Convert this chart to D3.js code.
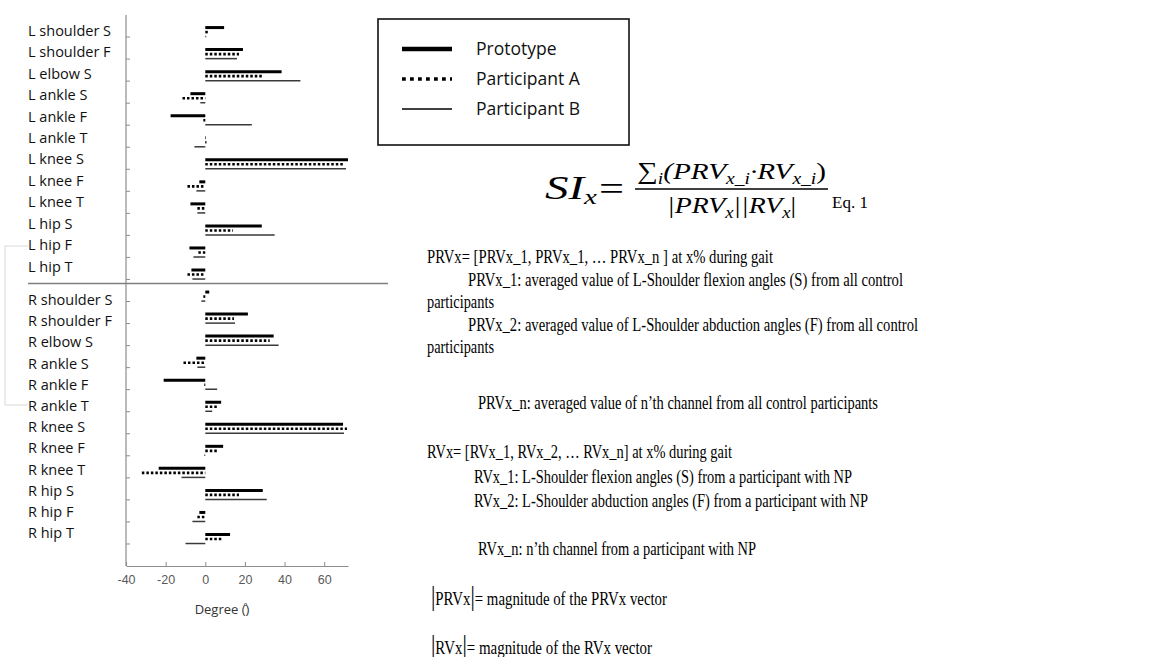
<!DOCTYPE html>
<html>
<head>
<meta charset="utf-8">
<script src="https://cdn.jsdelivr.net/npm/d3@7"></script>
<style>
  body { margin: 0; background: #fff; }
  svg { display: block; }
</style>
</head>
<body>
<div id="chart"></div>
<script>
// joint channels, top to bottom
const categories = [
  "L shoulder S", "L shoulder F", "L elbow S", "L ankle S", "L ankle F", "L ankle T",
  "L knee S", "L knee F", "L knee T", "L hip S", "L hip F", "L hip T",
  "R shoulder S", "R shoulder F", "R elbow S", "R ankle S", "R ankle F", "R ankle T",
  "R knee S", "R knee F", "R knee T", "R hip S", "R hip F", "R hip T"
];
const seriesNames = ["Prototype", "Participant A", "Participant B"];

// degrees
const prototype    = [9.5, 19, 38.5, -7.5, -17.5, 0.3, 72, -3, -7.5, 28.5, -8, -7,
                      2, 21.5, 34.5, -4.5, -21, 8, 69.5, 9, -23.5, 29, -3, 12.5];
const participantA = [1.5, 17, 29.5, -11.5, -1, 0.6, 69.5, -9, -4, 14, -3.5, -9,
                      -1, 14.5, 32.5, -11, -0.5, 6.5, 71.5, 6.5, -32, 17, -4, 9];
const participantB = [0.5, 16, 48, -2.5, 23.5, -5.5, 71, -4.5, -4, 35, -6, -6.5,
                      -2, 15, 37, -4, 6, 3.5, 70, -0.5, -12, 31, -6.5, -10];

const xTicks = [-40, -20, 0, 20, 40, 60];
const axisTitle = "Degree (\u030A)";

const noteLines = [
  "PRVx= [PRVx_1, PRVx_1, \u2026 PRVx_n ] at x% during gait",
  "PRVx_1: averaged value of L-Shoulder flexion angles (S) from all control",
  "participants",
  "PRVx_2: averaged value of L-Shoulder abduction angles (F) from all control",
  "participants",
  "PRVx_n: averaged value of n\u2019th channel from all control participants",
  "RVx= [RVx_1, RVx_2, \u2026 RVx_n] at x% during gait",
  "RVx_1: L-Shoulder flexion angles (S) from a participant with NP",
  "RVx_2: L-Shoulder abduction angles (F) from a participant with NP",
  "RVx_n: n\u2019th channel from a participant with NP"
];
const magnitudeLines = [
  ["PRVx", "= magnitude of the PRVx vector"],
  ["RVx", "= magnitude of the RVx vector"]
];

const width = 1168, height = 657;
const svg = d3.select("#chart").append("svg")
  .attr("width", width)
  .attr("height", height);

const sansFont = "'Open Sans', sans-serif";
const serifFont = "'Liberation Serif', 'Times New Roman', serif";

// faint bracket left over from the page behind the figure
svg.append("path")
  .attr("d", "M28,246 H5 V405 H28")
  .attr("fill", "none")
  .attr("stroke", "#e6e6e6")
  .attr("stroke-width", 1.5);

// scales
const x = d3.scaleLinear().domain([-40, 72]).range([126, 348]);
const y = d3.scaleBand().domain([...categories, "blank"]).range([15, 566]);
const bw = y.bandwidth();
const inner = d3.scalePoint().domain(seriesNames).range([bw * 0.57, bw * 0.98]);
// the label column is slightly out of step with the bars
const labelY = d3.scaleLinear().domain([0, 11, 12, 23]).range([35.7, 271.7, 305, 538.3]);

const axisColor = "#8c8c8c";

// x axis
const xAxis = svg.append("g")
  .attr("transform", `translate(0,${y.range()[1]})`)
  .call(d3.axisBottom(x).tickValues(xTicks).tickFormat(d => String(d))
    .tickSizeInner(-4).tickSizeOuter(0).tickPadding(9));
xAxis.select(".domain").attr("stroke", axisColor).attr("stroke-width", 1.2);
xAxis.selectAll(".tick line").attr("stroke", axisColor);
xAxis.selectAll(".tick text")
  .attr("fill", "#595959")
  .style("font-family", "'Liberation Sans', Arial, sans-serif")
  .style("font-size", "12.5px");

svg.append("text")
  .attr("x", 222)
  .attr("y", 614)
  .attr("text-anchor", "middle")
  .style("font-family", sansFont)
  .style("font-size", "13px")
  .attr("fill", "#333")
  .text(axisTitle);

// y axis line + ticks between categories
svg.append("line")
  .attr("x1", x.range()[0]).attr("x2", x.range()[0])
  .attr("y1", y.range()[0]).attr("y2", y.range()[1])
  .attr("stroke", axisColor).attr("stroke-width", 1.2);
svg.selectAll(".ytick")
  .data(categories)
  .enter().append("line")
  .attr("class", "ytick")
  .attr("x1", x.range()[0]).attr("x2", x.range()[0] + 4)
  .attr("y1", d => y(d) + bw).attr("y2", d => y(d) + bw)
  .attr("stroke", axisColor);

// category labels
svg.selectAll(".cat")
  .data(categories)
  .enter().append("text")
  .attr("class", "cat")
  .attr("x", 28)
  .attr("y", (d, i) => labelY(i))
  .style("font-family", sansFont)
  .style("font-size", "14.5px")
  .attr("fill", "#111")
  .text(d => d);

// separator between left and right side
svg.append("line")
  .attr("x1", 28).attr("x2", 388)
  .attr("y1", y("R shoulder S") + 4).attr("y2", y("R shoulder S") + 4)
  .attr("stroke", "#7f7f7f").attr("stroke-width", 1.6);

// bars
const styles = {
  "Prototype":     { stroke: "#000", width: 3, dash: null },
  "Participant A": { stroke: "#000", width: 2.6, dash: "2.5,2" },
  "Participant B": { stroke: "#3a3a3a", width: 1.5, dash: null }
};
const seriesValues = [prototype, participantA, participantB];

const rows = [];
seriesNames.forEach((s, si) => {
  categories.forEach((c, ci) => rows.push({ series: s, cat: c, value: seriesValues[si][ci] }));
});

svg.append("g").selectAll("line")
  .data(rows)
  .enter().append("line")
  .attr("x1", d => x(Math.min(0, d.value)))
  .attr("x2", d => x(Math.max(0, d.value)))
  .attr("y1", d => y(d.cat) + inner(d.series))
  .attr("y2", d => y(d.cat) + inner(d.series))
  .attr("stroke", d => styles[d.series].stroke)
  .attr("stroke-width", d => styles[d.series].width)
  .attr("stroke-dasharray", d => styles[d.series].dash);

// legend
const legend = svg.append("g");
legend.append("rect")
  .attr("x", 378).attr("y", 19)
  .attr("width", 251).attr("height", 126)
  .attr("fill", "#fff").attr("stroke", "#111").attr("stroke-width", 1.6);
const legendY = d3.scalePoint().domain(seriesNames).range([49, 109]);
const legendStyles = {
  "Prototype":     { width: 4.5, dash: null },
  "Participant A": { width: 3.5, dash: "3.8,4.2" },
  "Participant B": { width: 1.5, dash: null }
};
seriesNames.forEach(s => {
  legend.append("line")
    .attr("x1", 402).attr("x2", 452)
    .attr("y1", legendY(s)).attr("y2", legendY(s))
    .attr("stroke", "#000")
    .attr("stroke-width", legendStyles[s].width)
    .attr("stroke-dasharray", legendStyles[s].dash);
  legend.append("text")
    .attr("x", 476)
    .attr("y", legendY(s) + 5.5)
    .style("font-family", sansFont)
    .style("font-size", "17.5px")
    .attr("fill", "#111")
    .text(s);
});

// equation 1
const eq = svg.append("g").style("font-family", serifFont).attr("fill", "#000");

function mathText(parts, px, py, big, small, len) {
  const t = eq.append("text").attr("x", px).attr("y", py)
    .attr("textLength", len).attr("lengthAdjust", "spacingAndGlyphs");
  let level = 0;
  parts.forEach(([str, sub, italic]) => {
    const shift = (sub - level) * 5;
    level = sub;
    t.append("tspan")
      .attr("dy", shift)
      .style("font-size", (sub ? small : big) + "px")
      .style("font-style", italic ? "italic" : "normal")
      .text(str);
  });
  return t;
}

mathText([["SI", 0, 1], ["x", 1, 1]], 545, 199, 34, 21, 52);
eq.append("text").attr("x", 599).attr("y", 200)
  .attr("textLength", 25).attr("lengthAdjust", "spacingAndGlyphs")
  .style("font-size", "34px").text("=");
eq.append("line")
  .attr("x1", 635).attr("x2", 828).attr("y1", 189).attr("y2", 189)
  .attr("stroke", "#000").attr("stroke-width", 1.3);
mathText([["\u2211", 0, 0], ["i", 1, 1], ["(PRV", 0, 1], ["x_i", 1, 1], ["\u00B7RV", 0, 1],
          ["x_i", 1, 1], [")", 0, 0]], 637, 179, 24, 16, 189);
mathText([["|PRV", 0, 1], ["x", 1, 1], ["||RV", 0, 1], ["x", 1, 1], ["|", 0, 0]],
         667, 213, 24, 16, 129);
eq.append("text").attr("x", 832).attr("y", 208)
  .style("font-size", "17px").text("Eq. 1");

// notes
const noteX = [427, 468, 427, 468, 427, 478, 427, 474, 474, 478];
const noteBase = [263, 286, 308, 331, 353, 409, 458, 482.5, 506.5, 555];
const noteLen = [346, 435, 67, 450, 67, 400, 305, 378, 394, 278];

svg.append("g").selectAll("text")
  .data(noteLines)
  .enter().append("text")
  .attr("x", (d, i) => noteX[i])
  .attr("y", (d, i) => noteBase[i])
  .attr("textLength", (d, i) => noteLen[i])
  .attr("lengthAdjust", "spacingAndGlyphs")
  .style("font-family", serifFont)
  .style("font-size", "18.5px")
  .attr("fill", "#000")
  .text(d => d);

const magBase = [605, 654];
const magLen = [236, 221];
magnitudeLines.forEach(([name, rest], i) => {
  const t = svg.append("text")
    .attr("x", 431).attr("y", magBase[i])
    .attr("textLength", magLen[i]).attr("lengthAdjust", "spacingAndGlyphs")
    .style("font-family", serifFont).attr("fill", "#000");
  t.append("tspan").style("font-size", "27px").text("|");
  t.append("tspan").style("font-size", "18.5px").text(name);
  t.append("tspan").style("font-size", "27px").text("|");
  t.append("tspan").style("font-size", "18.5px").text(rest);
});
</script>
</body>
</html>
